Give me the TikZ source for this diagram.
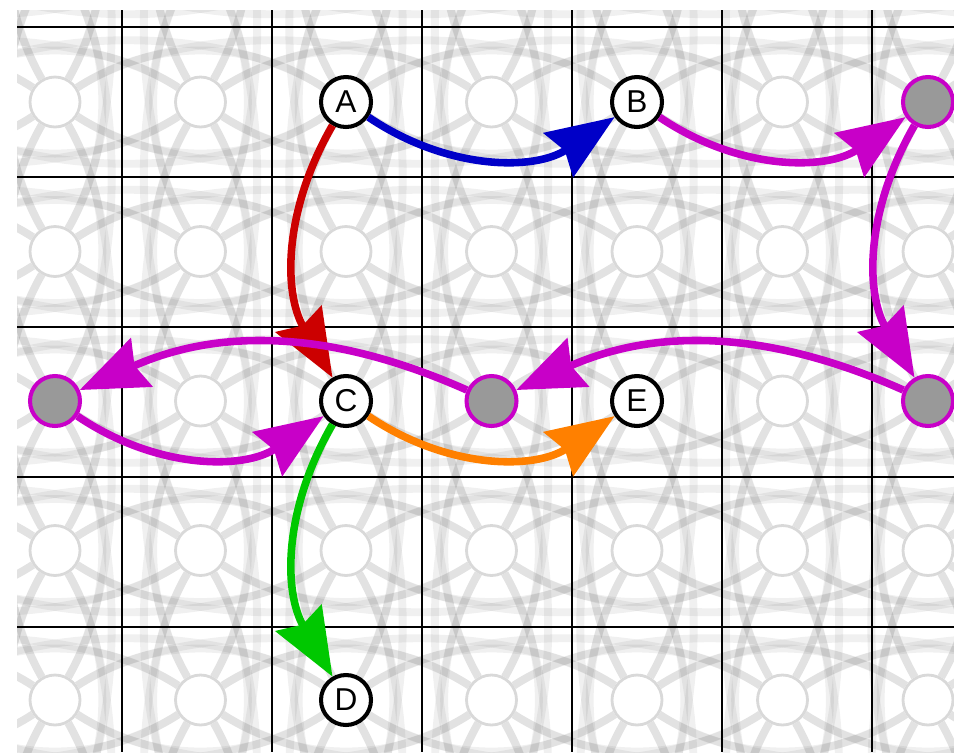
\documentclass[tikz,border=0pt]{standalone}
\usepackage{fontspec}
\setsansfont{Liberation Sans}
\usetikzlibrary{arrows.meta,backgrounds}

\definecolor{hop}{RGB}{200,0,200}
\definecolor{trailblue}{RGB}{0,0,200}
\definecolor{trailred}{RGB}{204,0,0}
\definecolor{trailorange}{RGB}{255,128,0}
\definecolor{trailgreen}{RGB}{0,200,0}

\tikzset{
    ghost/.style={circle, minimum size=1cm, inner sep=0pt, draw=black!15, line width=1.6pt, fill=white},
    ghostarc/.style={line width=4.5pt, draw=black, draw opacity=0.06},
    gridline/.style={line width=1.1pt, black},
    spot/.style={circle, minimum size=1cm, inner sep=0pt, line width=2.3pt, draw=black, fill=white,
        font=\sffamily\fontsize{18}{18}\selectfont},
    waypoint/.style={circle, minimum size=1cm, inner sep=0pt, line width=2.3pt, draw=hop, fill=black!40},
    hopline/.style={line width=4.3pt, -{Stealth[length=1.35cm, width=1.05cm, inset=0.15cm]}},
}

\begin{document}
\begin{tikzpicture}[x=0.02cm, y=-0.02cm]
    \useasboundingbox (0,0) rectangle (954,752);
    \clip (17,10) rectangle (954,752);

    % board of empty spots
    \foreach \i in {-4,...,10}
        \foreach \j in {-4,...,8}
            \node[ghost] (g\i-\j) at ({55+145.5*\i},{102+149.5*\j}) {};

    \begin{pgfonlayer}{background}
      \begin{scope}
        \clip (17,10) rectangle (954,752);
        \foreach \d/\reach in {2/1.82cm, 3/2.32cm} {
            \pgfmathtruncatemacro\lasti{10-\d}
            \pgfmathtruncatemacro\lastj{8-\d}
            \foreach \i in {-4,...,\lasti}
                \foreach \j in {-4,...,8} {
                    \pgfmathtruncatemacro\k{\i+\d}
                    \draw[ghostarc] (g\i-\j) to[bend left=33, distance=\reach] (g\k-\j);
                    \draw[ghostarc] (g\i-\j) to[bend right=33, distance=\reach] (g\k-\j);
                }
            \foreach \i in {-4,...,10}
                \foreach \j in {-4,...,\lastj} {
                    \pgfmathtruncatemacro\k{\j+\d}
                    \draw[ghostarc] (g\i-\j) to[bend left=30, distance=\reach] (g\i-\k);
                    \draw[ghostarc] (g\i-\j) to[bend right=30, distance=\reach] (g\i-\k);
                }
        }
        \foreach \x in {122,272,...,872}
            \draw[gridline] (\x,0) -- (\x,752);
        \foreach \y in {27,177,...,627}
            \draw[gridline] (0,\y) -- (954,\y);
      \end{scope}
    \end{pgfonlayer}

    % pieces
    \node[spot] (A) at (g2-0) {A};
    \node[spot] (B) at (g4-0) {B};
    \node[spot] (C) at (g2-2) {C};
    \node[spot] (D) at (g2-4) {D};
    \node[spot] (E) at (g4-2) {E};
    \node[waypoint] (p1) at (g6-0) {};
    \node[waypoint] (p2) at (g6-2) {};
    \node[waypoint] (p3) at (g3-2) {};
    \node[waypoint] (p4) at (g0-2) {};

    % moves
    \draw[hopline, trailblue] (A) to[bend right=34] (B);
    \draw[hopline, trailred] (A) to[bend right=30] (C);
    \draw[hopline, hop] (B) to[bend right=34] (p1);
    \draw[hopline, hop] (p1) to[bend right=30] (p2);
    \draw[hopline, hop] (p2) to[bend right=24] (p3);
    \draw[hopline, hop] (p3) to[bend right=24] (p4);
    \draw[hopline, hop] (p4) to[bend right=34] (C);
    \draw[hopline, trailorange] (C) to[bend right=34] (E);
    \draw[hopline, trailgreen] (C) to[bend right=30] (D);
\end{tikzpicture}
\end{document}
